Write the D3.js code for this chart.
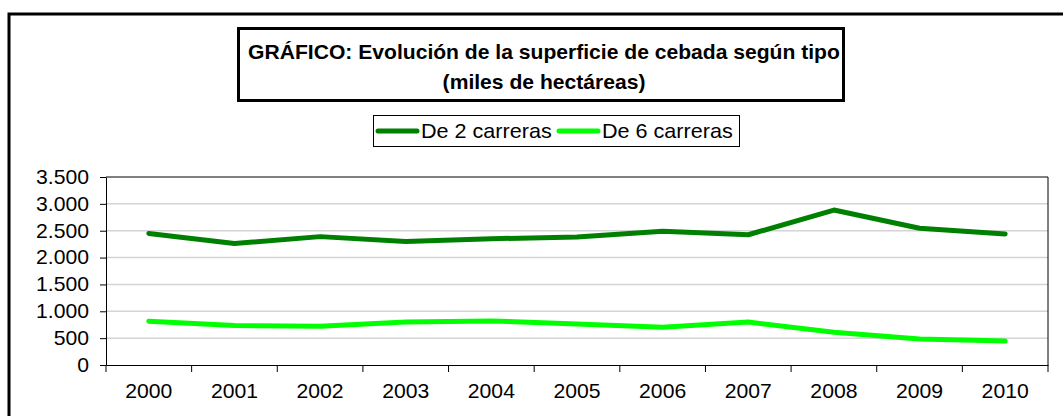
<!DOCTYPE html>
<html>
<head>
<meta charset="utf-8">
<script src="https://cdn.jsdelivr.net/npm/d3@7"></script>
<style>
  body { margin: 0; background: #fff; }
  svg { display: block; font-family: "Liberation Sans", Arial, sans-serif; }
</style>
</head>
<body>
<svg id="chart" width="1063" height="416"></svg>
<script>
// data (miles de hectáreas)
var years = ['2000', '2001', '2002', '2003', '2004', '2005', '2006', '2007', '2008', '2009', '2010'];
var dos_carreras = [2450, 2260, 2390, 2300, 2350, 2385, 2490, 2425, 2885, 2545, 2440];
var seis_carreras = [815, 735, 720, 800, 820, 765, 705, 800, 610, 485, 445];
var yTicks = [0, 500, 1000, 1500, 2000, 2500, 3000, 3500];
var seriesNames = ['De 2 carreras', 'De 6 carreras'];
var seriesColors = ['#008000', '#00ff00'];

document.addEventListener('DOMContentLoaded', function () {
    drawChart();
});

function fmt(v) {
    // spanish thousands separator
    return d3.format(',')(v).replace(/,/g, '.');
}

function drawChart() {
    const svg = d3.select('#chart');

    // outer frame (cut off at right and bottom)
    svg.append('path')
        .attr('d', 'M9,418 V14 H1065')
        .attr('fill', 'none')
        .attr('stroke', '#000')
        .attr('stroke-width', 3);

    const margin = { top: 177, bottom: 51, left: 106, right: 15 };
    const width = 1063 - margin.left - margin.right;
    const height = 416 - margin.top - margin.bottom;

    const g = svg.append('g')
        .attr('transform', `translate(${margin.left},${margin.top})`);

    const x = d3.scaleBand().domain(years).range([0, width]);
    const y = d3.scaleLinear().domain([0, 3500]).range([height, 0]);

    // gridlines
    g.selectAll('.grid')
        .data(yTicks.filter(d => d > 0 && d < 3500))
        .enter()
        .append('line')
        .attr('x1', 0)
        .attr('x2', width)
        .attr('y1', d => y(d))
        .attr('y2', d => y(d))
        .attr('stroke', '#d4d4d4')
        .attr('stroke-width', 1.5);

    // plot frame top & right
    g.append('path')
        .attr('d', `M0,0 H${width} V${height}`)
        .attr('fill', 'none')
        .attr('stroke', '#000')
        .attr('stroke-width', 1);

    // y axis (text is a bit wide in the original, so stretch it)
    const yAxis = g.append('g')
        .call(d3.axisLeft(y).tickValues(yTicks).tickFormat(fmt).tickSizeInner(6).tickSizeOuter(0).tickPadding(10));
    yAxis.selectAll('text')
        .attr('font-size', 20)
        .attr('fill', '#000')
        .attr('transform', 'scale(1.06,1)')
        .style('font-family', 'Liberation Sans, Arial, sans-serif');
    yAxis.selectAll('line, path').attr('stroke', '#000');

    // x axis with ticks at category boundaries
    const xAxis = g.append('g')
        .attr('transform', `translate(0,${height})`)
        .call(d3.axisBottom(x).tickSize(0).tickPadding(19));
    xAxis.select('.domain').attr('stroke', '#000');
    xAxis.selectAll('text')
        .attr('font-size', 20)
        .attr('fill', '#000')
        .attr('transform', 'scale(1.06,1)')
        .style('font-family', 'Liberation Sans, Arial, sans-serif');
    g.selectAll('.xtick')
        .data(years.concat(['end']))
        .enter()
        .append('line')
        .attr('x1', (d, i) => i * x.step())
        .attr('x2', (d, i) => i * x.step())
        .attr('y1', height)
        .attr('y2', height + 7)
        .attr('stroke', '#000');

    const line = d3.line()
        .x((d, i) => x(years[i]) + x.bandwidth() / 2)
        .y(d => y(d));

    [dos_carreras, seis_carreras].forEach(function (s, i) {
        g.append('path')
            .datum(s)
            .attr('d', line)
            .attr('fill', 'none')
            .attr('stroke', seriesColors[i])
            .attr('stroke-width', 5)
            .attr('stroke-linejoin', 'round')
            .attr('stroke-linecap', 'round');
    });

    // title box
    svg.append('rect')
        .attr('x', 238.5).attr('y', 28.5)
        .attr('width', 605).attr('height', 72)
        .attr('fill', '#fff')
        .attr('stroke', '#000')
        .attr('stroke-width', 3);
    const titleLines = ['GRÁFICO: Evolución de la superficie de cebada según tipo', '(miles de hectáreas)'];
    titleLines.forEach(function (t, i) {
        svg.append('text')
            .attr('transform', `translate(544,${59 + i * 30}) scale(1.055,1)`)
            .attr('text-anchor', 'middle')
            .attr('font-weight', 'bold')
            .attr('font-size', 20)
            .attr('fill', '#000')
            .text(t);
    });

    // legend
    svg.append('rect')
        .attr('x', 373.5).attr('y', 115.5)
        .attr('width', 366).attr('height', 31)
        .attr('fill', '#fff')
        .attr('stroke', '#000')
        .attr('stroke-width', 1);
    const legendX = [378, 559];
    seriesNames.forEach(function (name, i) {
        svg.append('line')
            .attr('x1', legendX[i]).attr('x2', legendX[i] + 39)
            .attr('y1', 131).attr('y2', 131)
            .attr('stroke', seriesColors[i])
            .attr('stroke-width', 5)
            .attr('stroke-linecap', 'round');
        svg.append('text')
            .attr('transform', `translate(${legendX[i] + 43},138) scale(1.08,1)`)
            .attr('font-size', 20)
            .attr('fill', '#000')
            .text(name);
    });
}
</script>
</body>
</html>
